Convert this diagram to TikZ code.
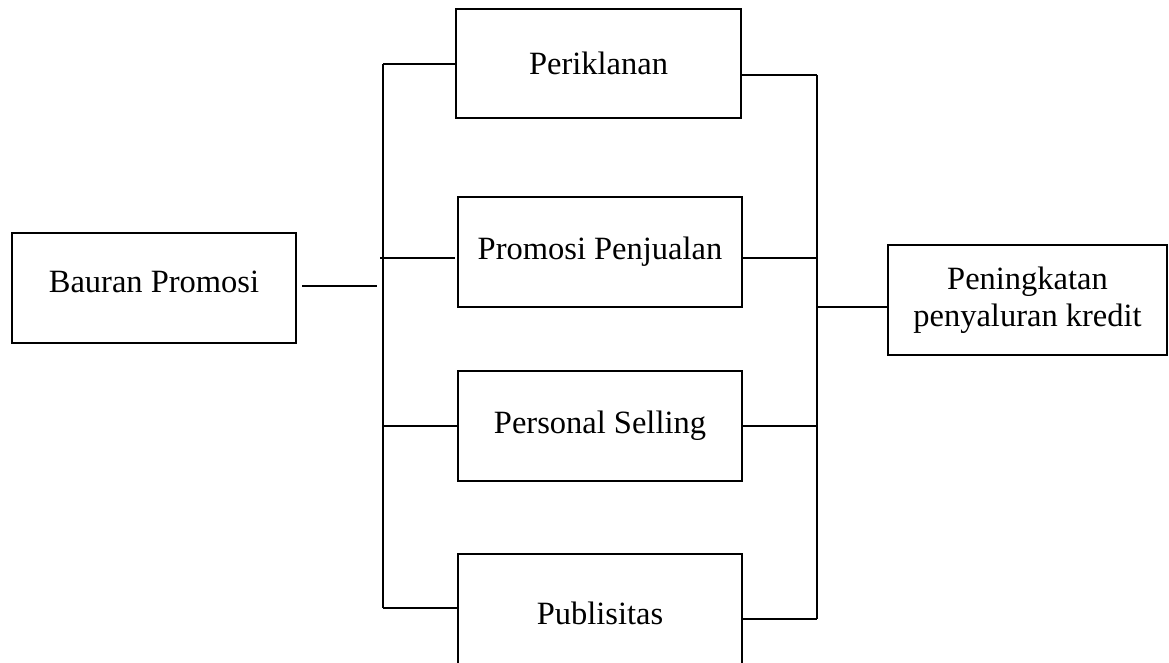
\documentclass[tikz,border=0pt]{standalone}
\usepackage{fontspec}
\setmainfont{Liberation Serif}
\begin{document}
\begin{tikzpicture}[x=1pt,y=-1pt,
  box/.style={draw,line width=1.6pt,inner sep=0pt,minimum height=110pt,align=center,font=\fontsize{32.5}{37}\selectfont},
  ln/.style={line width=1.6pt}]
\useasboundingbox (0,0) rectangle (1169,663);
\node[box,minimum width=284pt] (bp) at (154,288) {\raisebox{12pt}{Bauran Promosi}};
\node[box,minimum width=285pt,minimum height=109pt] (pk) at (598.5,63.5) {Periklanan};
\node[box,minimum width=284pt] (pp) at (600,252) {Promosi Penjualan};
\node[box,minimum width=284pt] (ps) at (600,426) {Personal Selling};
\node[inner sep=0pt,font=\fontsize{32.5}{37}\selectfont] (pb) at (600,613) {Publisitas};
\node[box,minimum width=279pt] (pn) at (1027.5,300) {Peningkatan\\penyaluran kredit};
% Publisitas open box
\coordinate (pbtl) at (458,554);
\coordinate (pbtr) at (742,554);
\draw[ln] (458,663) -- (pbtl) -- (pbtr) -- (742,663);
% left bus
\coordinate (lt) at (383,64);
\coordinate (lb) at (383,608);
\draw[ln] (lt) -- (lb);
\coordinate (bpa) at (302,286);
\coordinate (bpb) at (377,286);
\draw[ln] (bpa) -- (bpb);
\draw[ln] (lt) -- (pk.west |- lt);
\draw[ln] (380,258) -- (455,258);
\draw[ln] (383,426) -- (ps.west |- 0,426);
\draw[ln] (lb) -- (458,608);
% right bus
\coordinate (rt) at (817,75);
\coordinate (rb) at (817,619);
\draw[ln] (rt) -- (rb);
\draw[ln] (pk.east |- rt) -- (rt);
\draw[ln] (pp.east |- 0,258) -- (817,258);
\draw[ln] (ps.east |- 0,426) -- (817,426);
\draw[ln] (742,619) -- (rb);
\draw[ln] (816,307) -- (pn.west |- 0,307);
\end{tikzpicture}
\end{document}
